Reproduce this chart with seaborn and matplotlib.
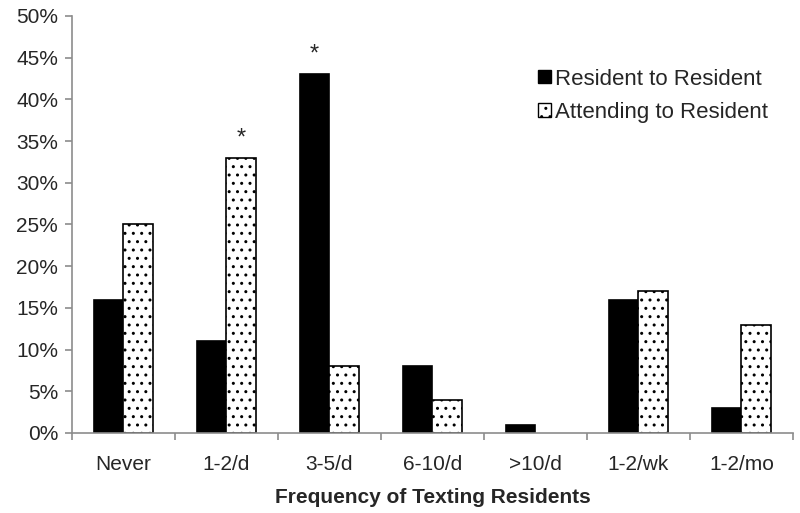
import matplotlib
matplotlib.use("Agg")
import matplotlib.pyplot as plt
import pandas as pd
import seaborn as sns
import numpy as np
from matplotlib.patches import Patch
from matplotlib.ticker import PercentFormatter

# Data
categories = ["Never", "1-2/d", "3-5/d", "6-10/d", ">10/d", "1-2/wk", "1-2/mo"]
resident_to_resident = [16, 11, 43, 8, 1, 16, 3]
attending_to_resident = [25, 33, 8, 4, 0, 17, 13]
series_names = ["Resident to Resident", "Attending to Resident"]

df = pd.DataFrame({
    "category": categories * 2,
    "value": resident_to_resident + attending_to_resident,
    "series": [series_names[0]] * len(categories) + [series_names[1]] * len(categories),
})

sns.set_style("white")
plt.rcParams['font.family'] = ['Liberation Sans', 'DejaVu Sans']
plt.rcParams['hatch.linewidth'] = 1.0

fig = plt.figure(figsize=(8, 5.13), dpi=100)
ax = fig.add_axes([0.09, 0.156, 0.901, 0.813])

sns.barplot(data=df, x="category", y="value", hue="series", order=categories,
            hue_order=series_names, palette=["black", "white"], width=0.57,
            gap=0, edgecolor="black", linewidth=1.2, legend=False, ax=ax)

# dotted pattern on the second series
n = len(categories)
for i, bar in enumerate(ax.patches[:2 * n]):
    if i >= n:
        bar.set_hatch("..")
        bar.set_facecolor("white")
        bar.set_edgecolor("black")
        if bar.get_height() == 0:
            bar.set_visible(False)

ax.set_ylim(0, 50)
ax.set_xlim(-0.5, n - 0.5)
ax.set_yticks(np.arange(0, 51, 5))
ax.yaxis.set_major_formatter(PercentFormatter(decimals=0))
ax.set_xticks(range(n))
ax.set_xticklabels(categories)
ax.set_xticks(np.arange(-0.5, n, 1), minor=True)

for side in ["top", "right"]:
    ax.spines[side].set_visible(False)
for side in ["left", "bottom"]:
    ax.spines[side].set_color("#8c8c8c")
    ax.spines[side].set_linewidth(1.2)

ax.tick_params(axis="y", which="major", direction="out", length=5, color="#8c8c8c",
               width=1.2, left=True, labelsize=15, pad=5)
ax.tick_params(axis="x", which="major", length=0, labelsize=15, pad=16)
ax.tick_params(axis="x", which="minor", direction="out", length=5, color="#8c8c8c",
               width=1.2, bottom=True)

ax.set_xlabel("Frequency of Texting Residents", fontsize=15, fontweight="bold", labelpad=10)
ax.set_ylabel("")

# significance markers
ax.text(1 + 0.143, 33 + 1.0, "*", ha="center", va="bottom", fontsize=17)
ax.text(2 - 0.143, 43 + 1.0, "*", ha="center", va="bottom", fontsize=17)

handles = [Patch(facecolor="black", edgecolor="black"),
           Patch(facecolor="white", edgecolor="black", hatch="..")]
ax.legend(handles, series_names, loc="upper right", bbox_to_anchor=(0.978, 0.895),
          frameon=False, fontsize=16, handlelength=0.55, handleheight=0.55,
          handletextpad=0.2, labelspacing=0.55, borderaxespad=0)

fig.savefig("out.png", dpi=100)
